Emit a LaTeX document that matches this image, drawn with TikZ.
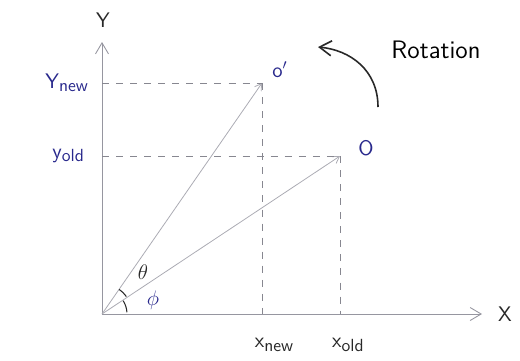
\documentclass[tikz,border=0pt]{standalone}
\usepackage{tikz}
\usetikzlibrary{arrows.meta, positioning, calc}
\definecolor{inkblue}{RGB}{40,40,140}
\definecolor{pencil}{RGB}{150,150,160}
\definecolor{inkdark}{RGB}{40,40,40}
\newcommand{\subtxt}[1]{\raisebox{-0.35ex}{\sffamily\normalsize #1}}

\begin{document}
\begin{tikzpicture}[x=0.02cm, y=0.02cm,
  axis/.style={draw=pencil, line width=0.5pt, -{Straight Barb[length=2.2mm, width=2.6mm]}},
  ray/.style={draw=pencil!80, line width=0.45pt, -{Straight Barb[length=1.3mm, width=1.6mm]}},
  guide/.style={draw=pencil!90!black, line width=0.5pt, dash pattern=on 4pt off 4pt},
  lbl/.style={font=\sffamily\large, text=inkblue, inner sep=1pt},
  grey/.style={font=\sffamily\large, text=inkdark, inner sep=1pt},
]
  \useasboundingbox (0,0) rectangle (520,360);

  % Axes
  \coordinate (o) at (102,46);
  \coordinate (xend) at (482,46);
  \coordinate (yend) at (102,318);
  \draw[axis] (o) -- (xend);
  \draw[axis] (o) -- (yend);
  \node[grey] (ylab) at (103,340) {Y};
  \node[grey] (xlab) at (505,46) {X};

  % Points
  \coordinate (pnew) at (262,277);
  \coordinate (pold) at (340,204);
  \node[lbl] (pnewlab) at (280,290) {o$'$};
  \node[lbl] (poldlab) at (366,212) {O};

  % Rays
  \draw[ray] (o) -- (pnew);
  \draw[ray] (o) -- (pold);

  % Projections
  \draw[guide] (o |- pnew) -- (pnew);
  \draw[guide] (o |- pold) -- (pold);
  \draw[guide] (pnew) -- (pnew |- o);
  \draw[guide] (pold) -- (pold |- o);

  % Labels on axes
  \node[lbl, anchor=east] (ynew) at (90,277) {Y\subtxt{new}};
  \node[lbl, anchor=east] (yold) at (86,204) {y\subtxt{old}};
  \node[grey] (xnew) at (274,15) {x\subtxt{new}};
  \node[grey] (xold) at (348,15) {x\subtxt{old}};

  % Angles
  \draw[inkdark, line width=0.6pt] ($(o)+(35.6:30)$) arc (35.6:55:30);
  \draw[inkdark, line width=0.6pt] ($(o)+(4:25)$) arc (4:32:25);
  \node[grey, font=\large] (theta) at (143,88) {$\theta$};
  \node[lbl, font=\large] (phi) at (153,60) {$\phi$};

  % Rotation
  \coordinate (rstart) at (378,253);
  \coordinate (rend) at (318,313);
  \draw[inkdark, line width=0.9pt, -{Straight Barb[length=2.4mm, width=3mm]}]
    (rstart) .. controls (378,290) and (350,310) .. (rend);
  \node[font=\sffamily\Large, text=black] (rot) at (436,310) {Rotation};
\end{tikzpicture}
\end{document}
